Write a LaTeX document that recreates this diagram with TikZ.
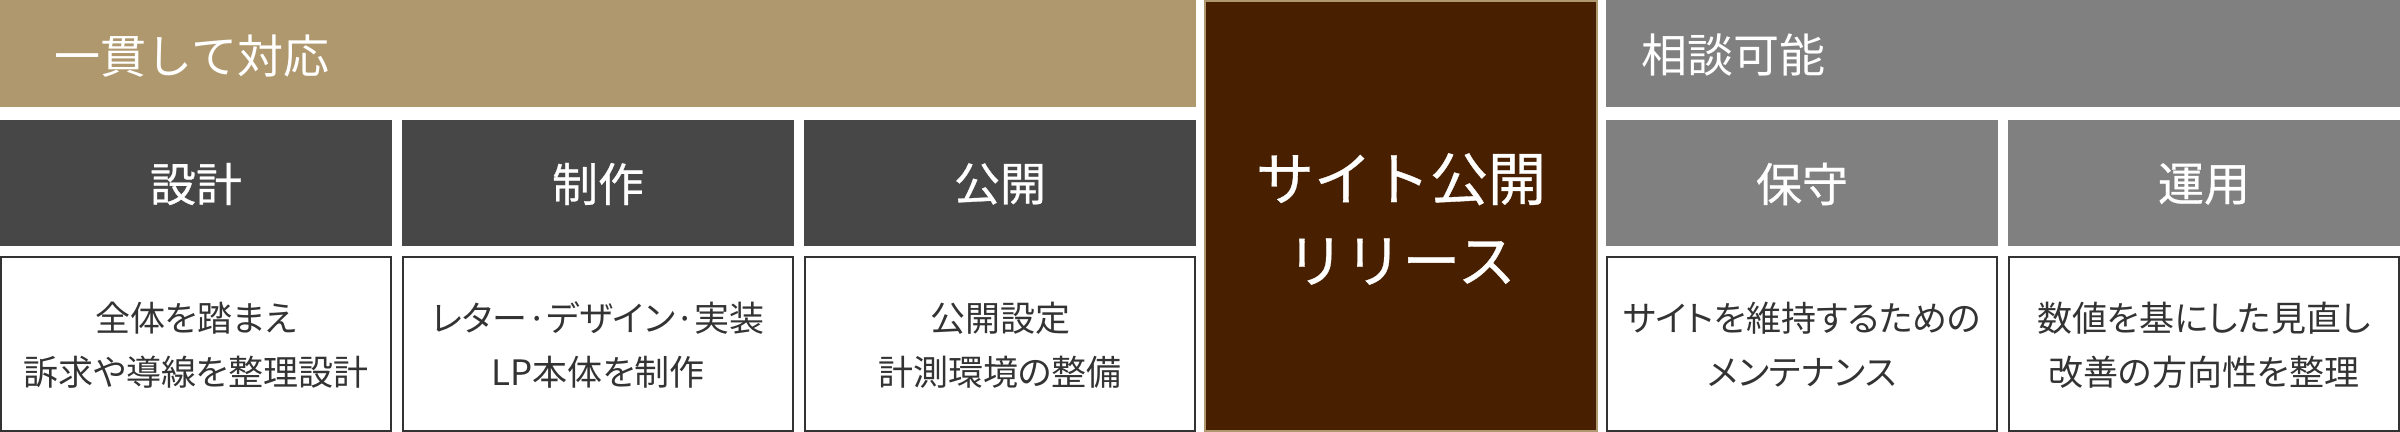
\documentclass[tikz,border=0pt]{standalone}
\usepackage{fontspec}
\setmainfont{Noto Sans CJK JP}
\newfontfamily\paltfont{Noto Sans CJK JP}[RawFeature=+palt]
\newfontfamily\medfont{Noto Sans CJK JP}[FakeBold=0.6]
\usetikzlibrary{fit}
\definecolor{goldbar}{RGB}{176,152,110}
\definecolor{darkbox}{RGB}{71,71,71}
\definecolor{graybox}{RGB}{128,128,128}
\definecolor{brownbox}{RGB}{72,32,0}
\definecolor{bodytext}{RGB}{51,51,51}
\begin{document}
\begin{tikzpicture}[x=0.5pt,y=-0.5pt,
  band/.style={inner sep=0pt,outer sep=0pt,draw=none},
  headtext/.style={anchor=west,inner sep=0pt,text=white,font=\fontsize{23pt}{27pt}\selectfont},
  labelbox/.style={inner sep=0pt,outer sep=0pt,draw=none},
  labeltext/.style={inner sep=0pt,text=white,font=\medfont\fontsize{23pt}{27pt}\selectfont},
  descbox/.style={inner sep=0pt,outer sep=0pt,draw=bodytext,line width=1pt,fill=white},
  desctext/.style={align=center,inner sep=0pt,text=bodytext,font=\paltfont\fontsize{17.5pt}{27pt}\selectfont},
  centerbox/.style={inner sep=0pt,outer sep=0pt,draw=goldbar,line width=1pt,fill=brownbox}]
\useasboundingbox (0,0) rectangle (2400,432);
\fill[white] (0,0) rectangle (2400,432);

% header bars
\node[band,fit={(0,0) (1196,107)},fill=goldbar] (goldhead) {};
\node[headtext] (goldlabel) at (54,56) {一貫して対応};
\node[band,fit={(1606,0) (2400,107)},fill=graybox] (grayhead) {};
\node[headtext] (graylabel) at (1641,55) {相談可能};

% label boxes
\node[labelbox,fit={(0,120) (392,246)},fill=darkbox] (l1) {};
\node[labeltext] (lt1) at (196,184) {設計};
\node[labelbox,fit={(402,120) (794,246)},fill=darkbox] (l2) {};
\node[labeltext] (lt2) at (598,184) {制作};
\node[labelbox,fit={(804,120) (1196,246)},fill=darkbox] (l3) {};
\node[labeltext] (lt3) at (1000,184) {公開};
\node[labelbox,fit={(1606,120) (1998,246)},fill=graybox] (l4) {};
\node[labeltext] (lt4) at (1802,184) {保守};
\node[labelbox,fit={(2008,120) (2400,246)},fill=graybox] (l5) {};
\node[labeltext] (lt5) at (2204,184) {運用};

% description boxes
\node[descbox,fit={(1,257) (391,431)}] (d1) {};
\node[desctext] (t1) at (196,345) {全体を踏まえ\\訴求や導線を整理設計};
\node[descbox,fit={(403,257) (793,431)}] (d2) {};
\node[desctext] (t2) at (598,345) {レター·デザイン·実装\\LP本体を制作};
\node[descbox,fit={(805,257) (1195,431)}] (d3) {};
\node[desctext] (t3) at (1000,345) {公開設定\\計測環境の整備};
\node[descbox,fit={(1607,257) (1997,431)}] (d4) {};
\node[desctext] (t4) at (1802,345) {サイトを維持するための\\メンテナンス};
\node[descbox,fit={(2009,257) (2399,431)}] (d5) {};
\node[desctext] (t5) at (2204,345) {数値を基にした見直し\\改善の方向性を整理};

% center box
\node[centerbox,fit={(1205,1) (1597,431)}] (release) {};
\node[align=center,inner sep=0pt,text=white,font=\medfont\fontsize{29pt}{41pt}\selectfont] (releasetext) at (1401,219) {サイト公開\\リリース};
\end{tikzpicture}
\end{document}
